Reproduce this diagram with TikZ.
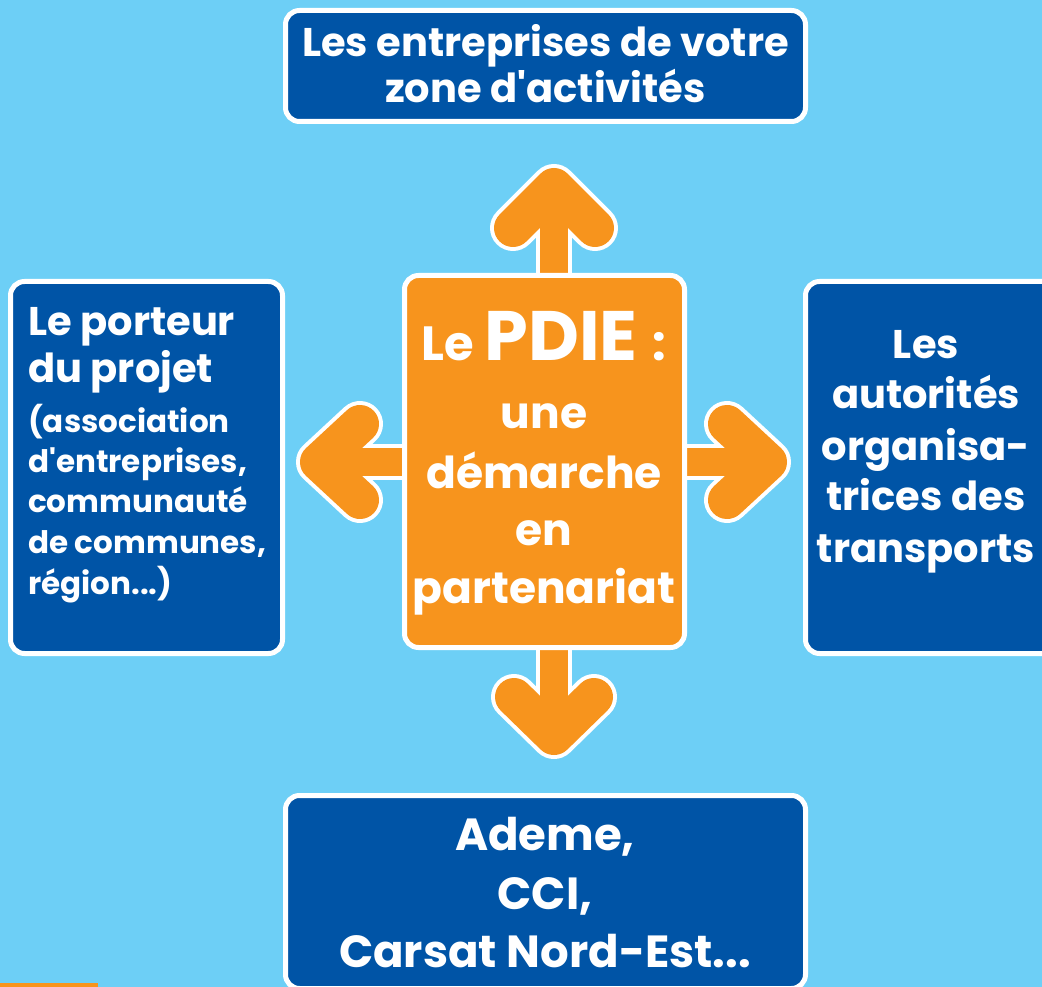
\documentclass[tikz,border=0pt]{standalone}
\usepackage{fontspec}
\setmainfont{Poppins}
\definecolor{bgblue}{HTML}{6DCFF6}
\definecolor{boxblue}{HTML}{0054A6}
\definecolor{porange}{HTML}{F7941D}
\begin{document}
\begin{tikzpicture}[x=1pt,y=-1pt,
  panel/.style={draw=white, line width=5pt, rounded corners=14pt, fill=boxblue, inner sep=0pt, outer sep=0pt},
  hub/.style={panel, fill=porange},
  lbl/.style={text=white, inner sep=0pt, anchor=base},
  big/.style={lbl, font={\fontsize{40}{48}\selectfont\bfseries}},
  mid/.style={lbl, font={\fontsize{31}{36}\selectfont\bfseries}},
  ctr/.style={lbl, font={\fontsize{44}{50}\selectfont\bfseries}},
  bot/.style={lbl, font={\fontsize{45}{50}\selectfont\bfseries}},
  armw/.style={draw=white, line width=46pt, line cap=round, line join=round},
  armo/.style={draw=porange, line width=38pt, line cap=round, line join=round},
  shaftw/.style={draw=white, line width=36pt},
  shafto/.style={draw=porange, line width=28pt}]
\useasboundingbox (0,0) rectangle (1042,987);
\clip (0,0) rectangle (1042,987);
\fill[bgblue] (0,0) rectangle (1042,987);
\fill[porange] (0,983) rectangle (98,987);

% arrow coordinates
\coordinate (ua) at (554,187); \coordinate (ul) at (513,228); \coordinate (ur) at (595,228);
\coordinate (us0) at (554,300); \coordinate (us1) at (554,200);
\coordinate (da) at (554,736); \coordinate (dl) at (514,697); \coordinate (dr) at (594,697);
\coordinate (ds0) at (554,620); \coordinate (ds1) at (554,725);
\coordinate (la) at (319,462); \coordinate (lu) at (360,424); \coordinate (ld) at (360,500);
\coordinate (ls0) at (430,462); \coordinate (ls1) at (330,462);
\coordinate (ra) at (768,462); \coordinate (ru) at (727,424); \coordinate (rd) at (727,500);
\coordinate (rs0) at (660,462); \coordinate (rs1) at (757,462);

% white outlines
\draw[shaftw] (us0) -- (us1); \draw[armw] (ul) -- (ua) -- (ur);
\draw[shaftw] (ds0) -- (ds1); \draw[armw] (dl) -- (da) -- (dr);
\draw[shaftw] (ls0) -- (ls1); \draw[armw] (lu) -- (la) -- (ld);
\draw[shaftw] (rs0) -- (rs1); \draw[armw] (ru) -- (ra) -- (rd);
% orange bodies
\draw[shafto] (us0) -- (us1); \draw[armo] (ul) -- (ua) -- (ur);
\draw[shafto] (ds0) -- (ds1); \draw[armo] (dl) -- (da) -- (dr);
\draw[shafto] (ls0) -- (ls1); \draw[armo] (lu) -- (la) -- (ld);
\draw[shafto] (rs0) -- (rs1); \draw[armo] (ru) -- (ra) -- (rd);

% boxes
\node[panel, minimum width=520pt, minimum height=111pt] (top) at (545.5,66) {};
\node[panel, minimum width=272pt, minimum height=372pt] (left) at (146.5,467.5) {};
\node[panel, minimum width=255pt, minimum height=372pt] (right) at (933,467.5) {};
\node[hub, minimum width=280pt, minimum height=372pt] (hubbox) at (544.5,461.5) {};
\node[panel, minimum width=520pt, minimum height=193pt] (bottom) at (545.5,892) {};

% top texts
\node[big] (t1) at (545.5,57) {Les entreprises de votre};
\node[big] (t2) at (545.5,103) {zone d\textquotesingle activités};

% left texts
\node[big, anchor=base west] (l1) at (28,335) {Le porteur};
\node[big, anchor=base west] (l2) at (28,382) {du projet};
\node[mid, anchor=base west] (l3) at (28,432) {(association};
\node[mid, anchor=base west] (l4) at (28,472) {d\textquotesingle entreprises,};
\node[mid, anchor=base west] (l5) at (28,512) {communauté};
\node[mid, anchor=base west] (l6) at (28,553) {de communes,};
\node[mid, anchor=base west] (l7) at (28,594) {région...)};

% right texts
\node[big] (r1) at (926,358) {Les};
\node[big] (r2) at (926,408) {autorités};
\node[big] (r3) at (926,460) {organisa-};
\node[big] (r4) at (926,510) {trices des};
\node[big] (r5) at (926,562) {transports};

% center texts
\node[lbl] (c1) at (544,360) {{\fontsize{48}{50}\selectfont\bfseries Le }{\fontsize{70}{74}\selectfont\bfseries PDIE }{\fontsize{48}{50}\selectfont\bfseries :}};
\node[ctr] (c2) at (544,428) {une};
\node[ctr] (c3) at (544,488) {démarche};
\node[ctr] (c4) at (544,545) {en};
\node[ctr] (c5) at (544,603) {partenariat};

% bottom texts
\node[bot] (b1) at (545,850) {Ademe,};
\node[bot] (b2) at (545,909) {CCI,};
\node[bot] (b3) at (545,967) {Carsat Nord-Est...};
\end{tikzpicture}
\end{document}
